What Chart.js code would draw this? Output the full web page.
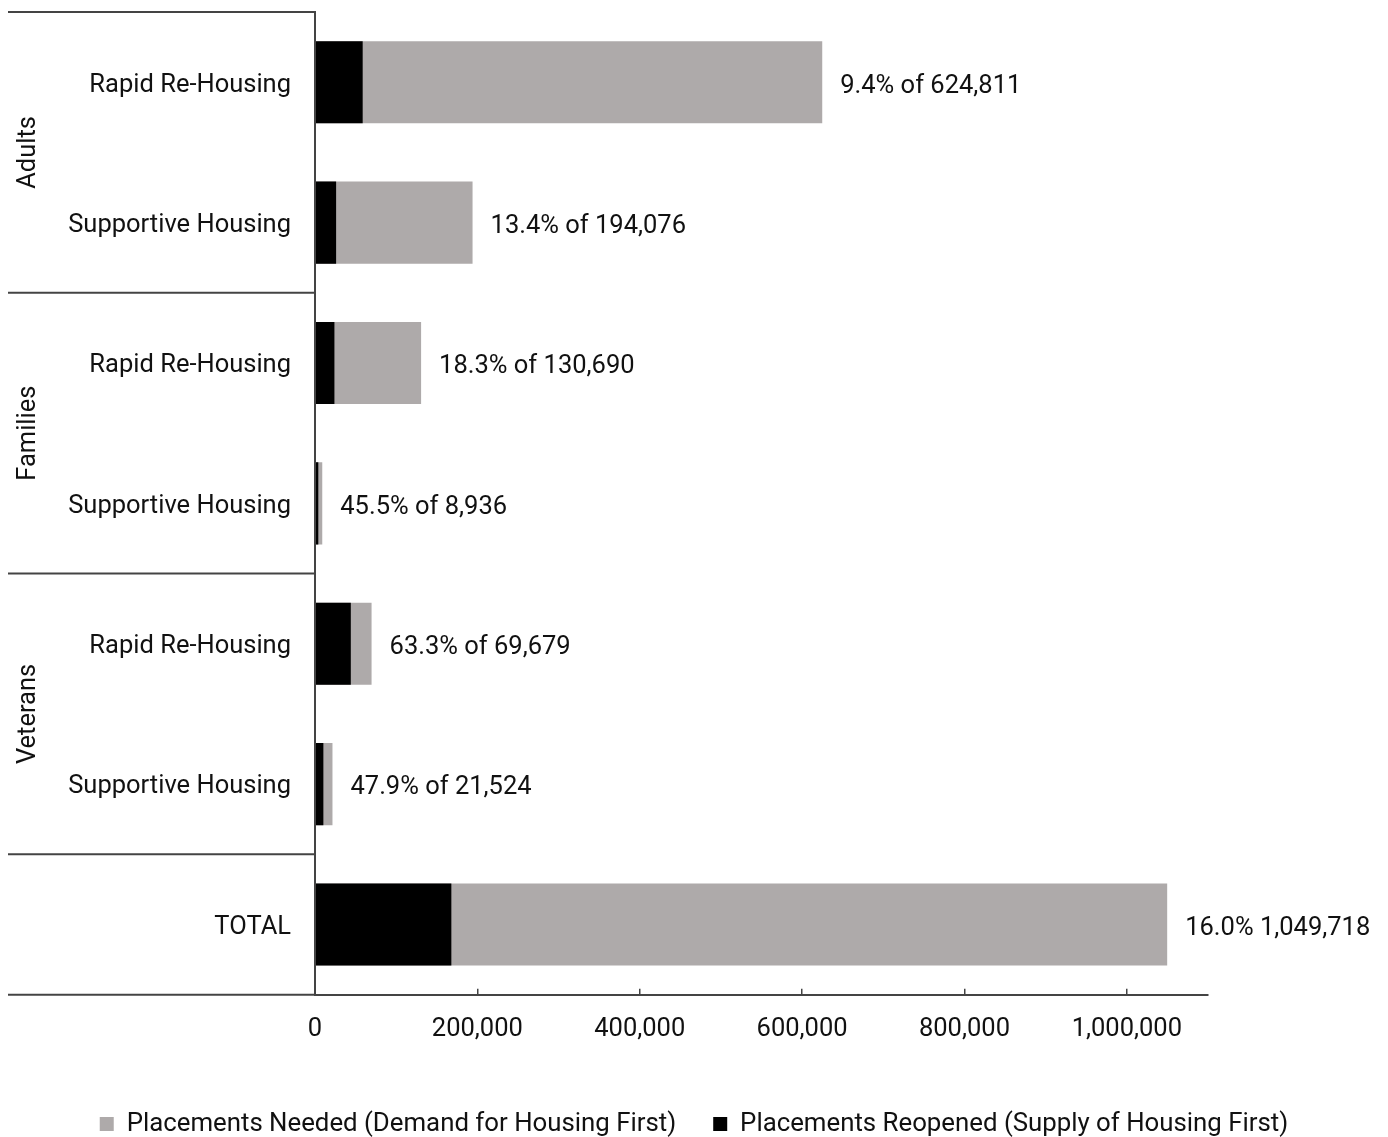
<!DOCTYPE html>
<html>
<head>
<meta charset="utf-8">
<script src="https://cdn.jsdelivr.net/npm/chart.js@4.4.1/dist/chart.umd.min.js"></script>
<style>
  html, body { margin: 0; padding: 0; background: #fff; }
  #wrap { width: 1388px; height: 1137px; }
</style>
</head>
<body>
<div id="wrap"><canvas id="c" width="1388" height="1137"></canvas></div>
<script>
const categories = ['Rapid Re-Housing', 'Supportive Housing', 'Rapid Re-Housing', 'Supportive Housing', 'Rapid Re-Housing', 'Supportive Housing', 'TOTAL'];
const groups = ['Adults', 'Families', 'Veterans', ''];
const groupSizes = [2, 2, 2, 1];
const needed = [624811, 194076, 130690, 8936, 69679, 21524, 1049718];
const reopened = [58732, 26006, 23916, 4066, 44107, 10310, 167955];
const valueLabels = ['9.4% of 624,811', '13.4% of 194,076', '18.3% of 130,690', '45.5% of 8,936', '63.3% of 69,679', '47.9% of 21,524', '16.0% 1,049,718'];
const xTicks = [0, 200000, 400000, 600000, 800000, 1000000];

const FONT = 'Roboto, "Noto Sans", sans-serif';
const FS = 25.5;
const LINE = '#444444';

const overlayPlugin = {
  id: 'overlay',
  afterDraw(chart) {
    const ctx = chart.ctx;
    const y = chart.scales.y, x = chart.scales.x;
    const left = 8, right = chart.chartArea.left;
    ctx.save();
    ctx.strokeStyle = LINE;
    ctx.lineWidth = 2;
    let idx = 0;
    const bounds = [y.getPixelForValue(-0.5)];
    groupSizes.forEach(s => { idx += s; bounds.push(y.getPixelForValue(idx - 0.5)); });
    bounds.forEach(b => {
      ctx.beginPath(); ctx.moveTo(left, b); ctx.lineTo(right, b); ctx.stroke();
    });
    ctx.fillStyle = '#111';
    ctx.font = FS + 'px ' + FONT;
    ctx.textAlign = 'center';
    ctx.textBaseline = 'middle';
    groups.forEach((g, i) => {
      if (!g) return;
      const cy = (bounds[i] + bounds[i + 1]) / 2;
      ctx.save();
      ctx.translate(29, cy);
      ctx.rotate(-Math.PI / 2);
      ctx.fillText(g, 0, 0);
      ctx.restore();
    });
    ctx.textAlign = 'left';
    valueLabels.forEach((t, i) => {
      const px = x.getPixelForValue(needed[i]) + 18;
      const py = y.getPixelForValue(i);
      ctx.fillText(t, px, py + 4);
    });
    ctx.restore();
  }
};

new Chart(document.getElementById('c'), {
  type: 'bar',
  data: {
    labels: categories,
    datasets: [
      { label: 'Placements Needed (Demand for Housing First)', data: needed, backgroundColor: '#AEAAAA', borderWidth: 0, order: 1, grouped: false, barPercentage: 0.585, categoryPercentage: 1, yAxisID: 'y' },
      { label: 'Placements Reopened (Supply of Housing First)', data: reopened, backgroundColor: '#000000', borderWidth: 0, order: 0, grouped: false, barPercentage: 0.585, categoryPercentage: 1, yAxisID: 'y' }
    ]
  },
  options: {
    indexAxis: 'y',
    responsive: false,
    animation: false,
    devicePixelRatio: 1,
    layout: { padding: { top: 12, right: 0, bottom: -10, left: 0 } },
    scales: {
      x: {
        min: 0, max: 1100000,
        grid: { display: true, drawOnChartArea: false, drawTicks: true, tickLength: -6, color: LINE, lineWidth: 1.5 },
        border: { display: true, color: LINE, width: 2 },
        afterBuildTicks(scale) { scale.ticks = xTicks.map(v => ({ value: v })); },
        afterFit(scale) { scale.height = 79.5; },
        ticks: {
          padding: 26,
          color: '#111',
          font: { family: FONT, size: FS },
          maxRotation: 0,
          callback: v => v.toLocaleString('en-US')
        }
      },
      y: {
        grid: { display: true, drawOnChartArea: false, drawTicks: true, tickLength: 24, tickColor: 'rgba(0,0,0,0)' },
        border: { display: true, color: LINE, width: 2 },
        afterFit(scale) { scale.width = 315; },
        ticks: {
          padding: 0,
          labelOffset: 3,
          color: '#111',
          font: { family: FONT, size: FS, lineHeight: 0.9 },
          autoSkip: false
        }
      },
      yRight: {
        type: 'category',
        axis: 'y',
        position: 'right',
        display: true,
        grid: { display: false, drawTicks: false },
        border: { display: false },
        ticks: { display: false },
        afterFit(scale) { scale.width = 180; }
      }
    },
    plugins: {
      legend: {
        position: 'bottom',
        labels: {
          boxWidth: 14, boxHeight: 14,
          color: '#111',
          font: { family: FONT, size: 25.8 },
          padding: 37,
          sort: (a, b) => a.datasetIndex - b.datasetIndex
        }
      },
      tooltip: { enabled: false }
    }
  },
  plugins: [overlayPlugin]
});
</script>
</body>
</html>
